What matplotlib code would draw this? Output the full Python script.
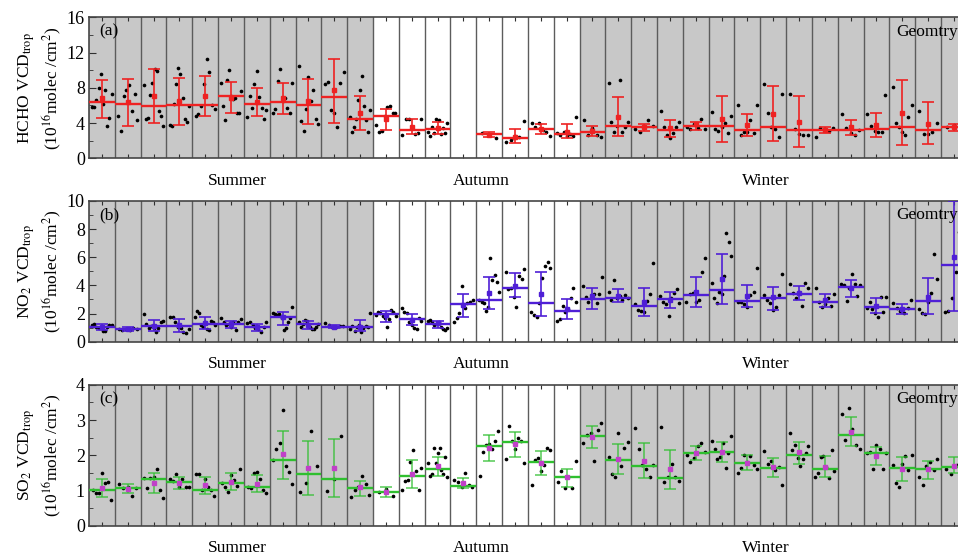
import numpy as np
import matplotlib
matplotlib.use('Agg')
import matplotlib.pyplot as plt
from matplotlib.ticker import MultipleLocator

plt.rcParams['font.family'] = ['Liberation Serif', 'DejaVu Serif']
plt.rcParams['mathtext.fontset'] = 'stix'

nan = np.nan

SEASONS = ['Summer', 'Autumn', 'Winter']
SEASON_COLS = [11, 8, 15]          # winter runs off the right edge of the picture
SEASON_SHADED = [True, False, True]
SEASON_LABEL_X = [5.75, 15.2, 26.2]

# ---- (a) HCHO ----
hcho_line = [6.4, 6.2, 5.9, 6.05, 6.0, 7.1, 6.2, 6.35, 6.1, 7.0, 4.5, 4.8, 3.2, 3.3, nan,
             2.76, 2.35, 3.3, 2.8, 3.0, 3.7, 3.5, 3.2, 3.7, 3.65, 3.2, 3.5, 3.2, 3.2, 3.2,
             3.3, 3.6, 3.2, 3.5]
hcho_mean = [6.8, 6.4, 7.1, 6.5, 7.1, 6.9, 6.4, 6.85, 6.5, 7.75, 5.1, 4.5, 3.5, 3.4, nan,
             2.65, 2.45, 3.3, 3.0, 3.1, 4.7, 3.5, 3.4, 3.9, 4.45, 3.8, 5.05, 4.15, 3.2, 3.5,
             3.8, 5.2, 3.95, 3.6]
hcho_lo = [4.54, 3.7, 4.0, 3.8, 4.8, 5.2, 4.8, 5.0, 3.9, 4.0, 3.2, 3.2, 2.8, 2.8, nan,
           2.4, 1.7, 2.75, 2.35, 2.5, 2.5, 3.1, 2.45, 3.2, 1.85, 2.5, 1.95, 1.3, 2.9, 2.65,
           2.45, 1.5, 1.6, 3.15]
hcho_hi = [8.85, 9.0, 10.1, 9.1, 9.3, 8.7, 8.0, 8.6, 9.0, 11.3, 7.1, 5.6, 4.5, 4.1, nan,
           3.0, 3.3, 3.85, 3.85, 3.7, 7.0, 3.9, 4.35, 4.15, 7.07, 5.0, 8.25, 7.07, 3.5, 4.3,
           5.2, 8.9, 6.4, 3.95]
hcho_dots = [
    [5.8, 5.8, 6.6, 8.0, 9.6, 6.2, 7.8, 3.7, 4.6, 7.3],
    [4.8, 3.1, 7.1, 7.8, 8.3, 5.4, 7.3, 4.3],
    [8.3, 4.5, 4.6, 7.2, 8.5, 10.1, 9.9, 5.4, 4.8, 3.7],
    [3.8, 3.7, 6.2, 8.4, 10.3, 9.6, 6.9, 4.5, 4.1, 5.9],
    [4.8, 5.0, 5.9, 8.4, 11.3, 9.8, 6.0, 5.6],
    [8.5, 5.9, 4.3, 8.9, 10.0, 7.1, 6.7, 6.8, 5.2, 5.2, 7.6],
    [4.7, 7.1, 5.7, 8.4, 9.9, 7.0, 5.7, 4.5, 5.5],
    [5.1, 5.6, 8.8, 10.1, 6.5, 6.9, 5.7, 5.1, 8.5],
    [10.5, 4.2, 3.1, 5.6, 9.2, 6.5, 7.8, 4.5, 3.9],
    [8.4, 8.7, 5.5, 5.2, 3.6, 8.6, 9.8],
    [4.7, 3.0, 3.5, 4.5, 6.6, 7.75, 9.3, 5.9, 4.35, 3.0, 5.5],
    [3.8, 3.0, 3.1, 4.8, 5.8, 5.9, 5.1, 5.1],
    [2.6, 4.5, 4.5, 3.6, 2.8, 2.9, 4.5],
    [3.0, 2.5, 3.5, 2.9, 4.5, 4.4, 2.8, 3.4, 2.9, 4.0],
    [],
    [2.9, 2.65, 2.3],
    [1.9, 2.1, 2.5, 2.4, 4.2],
    [4.0, 3.5, 4.0, 3.2, 2.95, 2.5],
    [2.9, 2.7, 3.0, 2.5, 2.8, 2.5, 4.65],
    [4.3, 2.65, 3.4, 2.65, 2.45],
    [8.6, 4.1, 2.95, 3.7, 8.9, 3.0, 3.6, 4.1],
    [3.3, 3.0, 3.7, 4.4, 3.7],
    [5.4, 3.5, 2.7, 2.35, 2.9, 3.5, 4.1],
    [3.6, 3.3, 3.9, 3.4, 4.5, 3.3],
    [5.25, 3.3, 3.15, 3.5, 4.0, 2.85, 4.8],
    [6.05, 2.7, 3.0, 2.95, 4.35, 2.9, 6.1],
    [8.4, 5.1, 3.5, 3.3, 2.45, 7.3],
    [7.3, 3.3, 2.8, 2.6, 2.65],
    [2.45, 3.4, 3.3, 3.1, 3.4],
    [5.0, 3.4, 2.9, 2.65, 3.2],
    [5.0, 3.65, 3.15, 2.95, 3.0, 7.2],
    [8.05, 4.0, 3.6, 2.95, 2.7, 4.7, 6.05],
    [5.4, 2.75, 2.75, 3.0, 4.05],
    [3.6, 3.8, 2.75],
]

# ---- (b) NO2 ----
no2_line = [1.07, 0.9, 1.14, 1.09, 1.26, 1.23, 1.02, 1.78, 1.23, 1.07, 1.07, 1.94, 1.61,
            1.23, 2.65, 2.96, 3.79, 2.72, 2.18, 3.03, 3.13, 2.56, 3.0, 3.32, 3.67, 2.89,
            3.08, 3.36, 2.84, 3.91, 2.49, 2.3, 2.91, 5.45]
no2_mean = [1.02, 0.9, 1.14, 1.18, 1.35, 1.23, 1.02, 1.73, 1.18, 1.07, 1.07, 1.9, 1.54,
            1.3, 2.6, 3.44, 3.98, 3.39, 2.3, 3.25, 3.25, 2.8, 2.96, 3.55, 4.45, 3.25, 3.15,
            3.44, 2.96, 3.79, 2.56, 2.32, 3.2, 6.04]
no2_lo = [0.83, 0.76, 0.78, 0.71, 0.9, 0.95, 0.78, 1.18, 0.9, 0.95, 0.78, 1.42, 1.18, 1.0,
          1.78, 2.3, 3.15, 1.85, 1.61, 2.3, 2.84, 1.82, 2.37, 2.49, 2.68, 2.44, 2.25, 2.96,
          2.44, 3.2, 2.01, 1.97, 1.94, 2.2]
no2_hi = [1.23, 1.07, 1.54, 1.61, 1.75, 1.49, 1.26, 2.13, 1.49, 1.18, 1.54, 2.2, 1.94, 1.47,
          3.39, 4.62, 4.86, 4.98, 3.0, 3.84, 3.72, 3.79, 3.55, 4.57, 6.21, 4.03, 3.91, 3.96,
          3.36, 4.38, 3.08, 2.65, 4.5, 10.0]
no2_dots = [
    [1.18, 1.23, 1.07, 1.0, 0.95, 0.78, 0.78, 1.07, 1.18, 1.18],
    [0.9, 0.83, 0.88, 0.83, 0.95, 0.88],
    [1.97, 1.23, 1.0, 1.14, 0.95, 0.71, 0.95, 1.37, 1.47],
    [1.73, 1.78, 1.37, 1.07, 0.95, 0.71, 0.59, 0.88],
    [1.78, 2.18, 2.06, 1.18, 1.07, 1.42, 0.88, 0.83, 1.47, 1.37, 1.18],
    [1.66, 1.37, 1.18, 1.26, 1.07, 1.42, 0.83, 1.37, 1.61],
    [1.3, 1.42, 1.18, 1.0, 0.88, 0.71, 1.07, 1.42],
    [2.06, 1.94, 1.9, 1.94, 1.66, 0.83, 1.0, 1.42, 1.66, 2.49],
    [1.37, 1.07, 1.23, 1.54, 1.47, 1.07, 0.9, 0.9, 1.07, 1.23],
    [1.3, 1.18, 1.07, 1.07, 1.14, 1.11],
    [0.9, 1.14, 0.78, 1.07, 1.18, 0.71, 0.95, 1.11, 1.07, 2.01],
    [1.9, 2.13, 2.01, 1.82, 1.71, 1.02, 1.59, 2.25, 2.13, 1.82],
    [2.42, 2.09, 2.01, 1.42, 1.18, 1.0, 0.9, 1.66, 1.47],
    [1.47, 1.54, 1.37, 1.18, 1.23, 1.37, 1.07, 0.9, 0.83, 0.95],
    [1.42, 1.71, 2.01, 3.98, 2.37, 2.72, 2.8, 2.96],
    [2.96, 2.84, 2.72, 2.18, 2.49, 5.92, 4.38, 4.74, 4.27, 3.55],
    [4.98, 3.74, 3.79, 3.15, 2.49, 4.69, 4.45, 5.17],
    [2.09, 1.9, 1.78, 2.72, 4.55, 5.4, 5.64, 5.26],
    [1.47, 1.61, 2.56, 2.13, 2.32, 3.08, 3.79, 2.8],
    [3.98, 3.2, 2.84, 3.08, 3.36, 2.72, 3.36, 4.57],
    [3.55, 2.96, 4.38, 3.08, 3.27, 2.96, 3.32, 3.13],
    [2.68, 2.25, 2.18, 2.13, 2.89, 3.36, 5.57],
    [3.25, 2.84, 2.65, 1.85, 3.08, 3.44, 3.74, 2.72],
    [2.8, 3.36, 3.44, 2.8, 2.96, 4.93, 5.92],
    [4.15, 3.08, 2.72, 3.51, 3.36, 4.69, 7.7, 7.1, 6.09],
    [2.84, 2.84, 2.65, 2.44, 3.32, 3.55, 5.21],
    [3.32, 2.96, 2.72, 2.25, 2.49, 3.32, 4.79],
    [4.08, 3.44, 3.08, 3.55, 2.56, 4.15, 3.79],
    [3.84, 2.84, 2.49, 2.65, 3.08, 2.56, 3.36],
    [4.1, 4.03, 2.89, 3.79, 4.79, 4.1, 3.27, 4.03],
    [2.42, 2.84, 2.32, 2.01, 1.78, 3.2, 2.13, 3.2],
    [2.72, 2.42, 2.2, 2.06, 2.37, 2.96],
    [2.32, 2.01, 1.94, 2.8, 3.44, 6.21, 4.43],
    [2.09, 2.18, 3.13, 4.93, 7.82, 6.4],
]

# ---- (c) SO2 ----
so2_line = [1.0, 1.06, 1.32, 1.25, 1.01, 1.2, 1.11, 1.87, 1.46, 1.34, 1.06, 0.95, 1.42, 1.62,
            1.13, 2.25, 2.39, 1.82, 1.39, 2.56, 1.87, 1.7, 1.36, 2.06, 2.09, 1.79, 1.63, 2.01,
            1.6, 2.57, 2.06, 1.65, 1.61, 1.68]
so2_mean = [1.08, 1.04, 1.22, 1.22, 1.15, 1.25, 1.18, 2.03, 1.65, 1.63, 1.09, 0.96, 1.47, 1.7,
            1.2, 2.2, 2.32, 1.79, 1.37, 2.53, 1.89, 1.85, 1.6, 2.06, 2.1, 1.77, 1.66, 2.08,
            1.68, 2.67, 1.98, 1.6, 1.6, 1.71]
so2_lo = [0.82, 0.92, 0.92, 1.04, 0.9, 1.01, 0.96, 1.32, 0.86, 0.82, 0.84, 0.81, 1.06, 1.41,
          1.06, 1.84, 1.94, 1.44, 1.09, 2.2, 1.47, 1.36, 1.03, 1.87, 1.8, 1.58, 1.37, 1.74,
          1.39, 2.25, 1.73, 1.28, 1.33, 1.49]
so2_hi = [1.33, 1.18, 1.49, 1.39, 1.39, 1.49, 1.43, 2.69, 2.42, 2.46, 1.28, 1.11, 1.87, 1.96,
          1.35, 2.57, 2.65, 2.12, 1.62, 2.83, 2.32, 2.34, 2.15, 2.25, 2.39, 2.01, 1.93, 2.37,
          1.98, 3.1, 2.23, 1.94, 1.85, 1.94]
so2_dots = [
    [1.0, 0.94, 0.94, 1.49, 1.2, 1.23, 0.73],
    [1.18, 1.06, 1.11, 0.85, 1.08],
    [1.36, 1.06, 1.36, 1.39, 1.62, 1.0, 0.8],
    [1.33, 1.28, 1.47, 1.09, 1.33, 1.11, 1.09],
    [1.47, 1.47, 1.0, 1.32, 1.11, 1.01, 0.84],
    [1.2, 1.09, 0.95, 1.43, 1.3, 1.14, 1.62],
    [1.11, 1.08, 1.49, 1.53, 1.32, 1.0, 0.92],
    [1.87, 2.19, 2.36, 3.29, 1.7, 1.53, 1.18],
    [0.96, 1.22, 2.69, 1.7],
    [0.99, 1.34, 2.55],
    [0.81, 1.01, 1.09, 1.41, 1.18, 0.88],
    [0.96, 1.04, 0.85],
    [1.0, 1.27, 1.3, 1.82, 2.15, 1.56, 1.0, 1.65],
    [1.79, 1.41, 1.47, 2.2, 1.79, 2.06, 2.2, 1.58, 1.47, 1.94, 1.39],
    [1.3, 1.25, 1.09, 1.49, 1.16, 1.09],
    [1.41, 2.1, 2.29, 2.32, 2.17, 2.41, 2.69],
    [1.89, 2.83, 2.41, 2.18, 2.5, 2.42, 1.77],
    [1.16, 1.87, 1.91, 1.54, 1.73, 2.2, 2.15],
    [1.23, 1.56, 1.06, 1.37, 1.06, 1.84],
    [2.34, 2.58, 2.63, 1.85, 2.72, 2.91],
    [1.94, 1.47, 1.37, 2.63, 1.7, 2.2, 2.39],
    [2.77, 2.17, 1.73, 1.6, 1.39, 1.73],
    [2.8, 1.25, 1.37, 1.74, 1.39, 1.27],
    [2.01, 1.82, 1.91, 2.27, 2.36, 2.1],
    [2.41, 2.17, 1.89, 1.96, 2.36, 1.63, 2.06, 2.55],
    [1.51, 1.63, 2.01, 1.82, 1.98, 1.73, 1.6],
    [2.13, 1.74, 1.85, 1.58, 1.66, 1.16],
    [2.63, 2.15, 2.29, 1.93, 1.7, 1.89, 2.06, 2.25],
    [1.39, 1.51, 1.94, 1.98, 1.68, 1.36, 2.15, 1.56],
    [3.17, 2.44, 3.34, 2.74, 2.29, 2.17],
    [2.06, 2.1, 1.6, 2.29, 2.17, 1.6, 2.06],
    [1.73, 1.2, 1.11, 1.74, 1.98, 1.58, 2.01],
    [1.37, 1.16, 1.7, 1.82, 1.58, 1.9],
    [1.6, 1.47, 1.73, 2.13],
]

PANELS = [
    dict(line=hcho_line, mean=hcho_mean, lo=hcho_lo, hi=hcho_hi, dots=hcho_dots,
         color='#ee2222', mcolor='#ee2222', alpha=1.0, ymax=16, major=4, minor=2,
         ylabel='HCHO VCD$_{\\rm trop}$\n(10$^{16}$molec /cm$^{2}$)', tag='(a)'),
    dict(line=no2_line, mean=no2_mean, lo=no2_lo, hi=no2_hi, dots=no2_dots,
         color='#4f1fd6', mcolor='#4f1fd6', alpha=1.0, ymax=10, major=2, minor=1,
         ylabel='NO$_2$ VCD$_{\\rm trop}$\n(10$^{16}$molec /cm$^{2}$)', tag='(b)'),
    dict(line=so2_line, mean=so2_mean, lo=so2_lo, hi=so2_hi, dots=so2_dots,
         color='#2fbf2f', mcolor='#c040c8', alpha=0.75, ymax=4, major=1, minor=0.5,
         ylabel='SO$_2$ VCD$_{\\rm trop}$\n(10$^{16}$molec /cm$^{2}$)', tag='(c)'),
]

BOTTOMS = [0.7158, 0.3865, 0.0562]
HEIGHT = 0.2528
LEFT = 0.0929
COL_W = 0.02695   # one column, in figure fraction

FRAME = '#454545'


def draw_panel(ax, p):
    ncol = len(p['line'])
    x = np.arange(ncol) + 0.5
    line = np.array(p['line'], dtype=float)
    mean = np.array(p['mean'], dtype=float)
    lo = np.array(p['lo'], dtype=float)
    hi = np.array(p['hi'], dtype=float)

    start = 0
    for n, shaded in zip(SEASON_COLS, SEASON_SHADED):
        if shaded:
            ax.axvspan(start, start + n, color='#c8c8c8', lw=0, zorder=0)
        start += n
    for b in range(1, ncol + 1):
        ax.axvline(b, color='#5c5c5c', lw=1.0, zorder=1)

    for i, vals in enumerate(p['dots']):
        if not vals:
            continue
        k = len(vals)
        xs = i + 0.08 + 0.84 * (np.arange(k) + 0.5) / k
        ax.scatter(xs, vals, s=7, c='black', lw=0, zorder=3)

    ax.hlines(line, x - 0.5, x + 0.5, colors=p['color'], lw=1.7, zorder=4)
    ax.errorbar(x, mean, yerr=[mean - lo, hi - mean], fmt='none', ecolor=p['color'],
                elinewidth=1.2, capsize=4, capthick=1.2, alpha=p['alpha'], zorder=5)
    ax.plot(x, mean, 's', ms=3.2, color=p['mcolor'], mec=p['mcolor'], zorder=6)

    ax.set_xlim(0, ncol)
    ax.set_ylim(0, p['ymax'])
    ax.set_xticks(x)
    ax.tick_params(axis='x', direction='in', top=True, bottom=True, length=3,
                   labelbottom=False, color='#303030')
    ax.yaxis.set_major_locator(MultipleLocator(p['major']))
    ax.yaxis.set_minor_locator(MultipleLocator(p['minor']))
    ax.tick_params(axis='y', which='major', direction='in', length=5, labelsize=13,
                   left=True, right=False, color='#303030', pad=3)
    ax.tick_params(axis='y', which='minor', direction='in', length=3, right=False,
                   color='#303030')
    for s in ax.spines.values():
        s.set_color(FRAME)
        s.set_linewidth(1.2)

    ax.set_ylabel(p['ylabel'], fontsize=12.5, linespacing=1.25)
    ax.yaxis.set_label_coords(-0.028, 0.5)

    ax.text(0.012, 0.9, p['tag'], transform=ax.transAxes, fontsize=12.5, va='center', zorder=7)
    ax.text(0.92, 0.9, 'Geomtry', transform=ax.transAxes, fontsize=12.5, va='center', zorder=7)
    for name, sx in zip(SEASONS, SEASON_LABEL_X):
        ax.text(sx, -0.16, name, transform=ax.get_xaxis_transform(), fontsize=12.5,
                ha='center', va='center')


fig = plt.figure(figsize=(9.58, 5.57), dpi=100)
ncols = sum(SEASON_COLS)
for p, bottom in zip(PANELS, BOTTOMS):
    ax = fig.add_axes([LEFT, bottom, COL_W * ncols, HEIGHT])
    draw_panel(ax, p)

fig.savefig('out.png', dpi=100)
